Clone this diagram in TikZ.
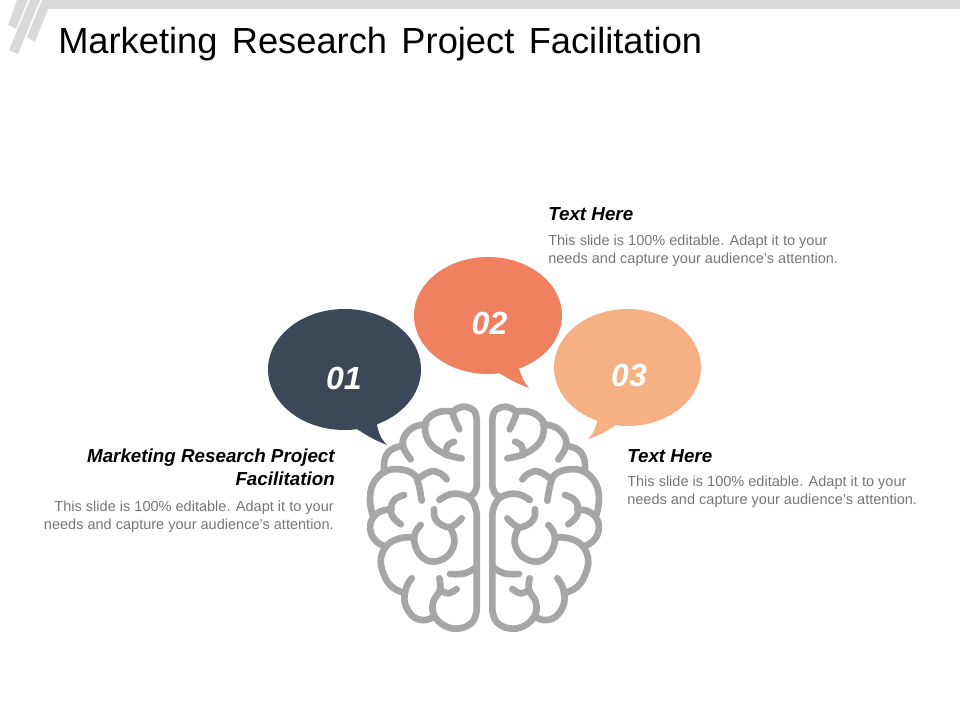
\documentclass[tikz,border=0pt]{standalone}
\usepackage{fontspec}
\setmainfont{Liberation Sans}
\usetikzlibrary{positioning}
\definecolor{bandgray}{HTML}{D9D9D9}
\definecolor{braingray}{HTML}{A6A6A6}
\definecolor{bodygray}{HTML}{767676}
\definecolor{navy}{HTML}{3C4858}
\definecolor{coral}{HTML}{EF8060}
\definecolor{peach}{HTML}{F5B183}
\tikzset{
    Title/.style = {anchor=base west, inner sep=0pt, font=\fontsize{27.2}{32}\selectfont},
    Head/.style = {inner sep=0pt, font=\fontsize{14.1}{17.5}\selectfont\bfseries\itshape},
    Body/.style = {inner sep=0pt, text=bodygray, font=\fontsize{10.9}{13.6}\selectfont},
    Num/.style = {inner sep=0pt, text=white, font=\fontsize{24}{28}\selectfont\bfseries\itshape},
    Fold/.style = {draw=braingray, line width=5pt, line cap=round, line join=round}
}
\tikzset{
    brainhalf/.pic = {
        \draw[Fold] plot[smooth,tension=0.6] coordinates {(328,118) (315,90) (310,65) (340,50) (372,62) (380,90)} -- (380,290)
            plot[smooth,tension=0.6] coordinates {(380,290) (372,310) (355,322)};
        \draw[Fold] plot[smooth,tension=0.7] coordinates {(310,65) (270,65) (235,85) (225,115) (240,160) (285,192) (335,205)};
        \draw[Fold] plot[smooth,tension=0.7] coordinates {(312,155) (292,168) (288,195)};
        \draw[Fold] plot[smooth,tension=0.7] coordinates {(228,103) (190,112) (163,140) (160,172) (182,208)};
        \draw[Fold] plot[smooth,tension=0.7] coordinates {(160,167) (125,178) (105,205) (102,243)};
        \draw[Fold] plot[smooth,tension=0.7] coordinates {(68,375) (60,330) (70,280) (105,245) (150,238) (190,252) (205,280) (215,332)};
        \draw[Fold] plot[smooth,tension=0.7] coordinates {(203,268) (240,245) (270,250) (290,268)};
        \draw[Fold] plot[smooth,tension=0.7] coordinates {(162,315) (135,328) (123,352) (128,380) (152,403)};
        \draw[Fold] plot[smooth,tension=0.7] coordinates {(125,358) (90,365) (65,390) (62,425) (80,455) (108,470)};
        \draw[Fold] plot[smooth,tension=0.7] coordinates {(190,442) (150,445) (112,465) (93,505) (100,550) (125,590) (165,610)};
        \draw[Fold] plot[smooth,tension=0.7] coordinates {(212,405) (195,430) (195,465) (215,500) (250,515) (290,500) (310,470) (312,440) (300,412)};
        \draw[Fold] plot[smooth,tension=0.7] coordinates {(252,358) (255,385) (275,405) (305,410) (335,385)};
        \draw[Fold] plot[smooth,tension=0.7] coordinates {(185,565) (168,595) (165,640) (190,680) (225,690) (252,680)};
        \draw[Fold] plot[smooth,tension=0.7] coordinates {(268,565) (270,600) (250,635) (252,675) (285,708) (330,715) (368,695) (380,660)} -- (380,370)
            plot[smooth,tension=0.7] coordinates {(380,370) (368,335) (340,315) (300,313) (268,330)};
        \draw[Fold] plot[smooth,tension=0.7] coordinates {(320,597) (295,610) (270,600)};
        \draw[Fold] plot[smooth,tension=0.7] coordinates {(300,552) (345,550) (380,530)};
    }
}

\begin{document}
\begin{tikzpicture}[x=0.75pt, y=-0.75pt]
\useasboundingbox (0,0) rectangle (960,720);

\fill[bandgray] (17,0) -- (28,0) -- (16,29) -- (8,25) -- cycle;
\fill[bandgray] (30,0) -- (40,0) -- (18,54) -- (9,50) -- cycle;
\fill[bandgray] (42,0) -- (960,0) -- (960,9) -- (48,9) -- (35,42) -- (27,37) -- cycle;

\node[Title] at (58,54) (title) {Marketing\hspace{0.12em} Research\hspace{0.12em} Project\hspace{0.12em} Facilitation};

% speech bubbles
\fill[navy] (344.5,369.5) ellipse [x radius=76.5, y radius=60.5];
\fill[navy] (357,429) .. controls (367,436) and (377,441) .. (387,445) .. controls (381,439) and (378,432) .. (377,424) -- cycle;
\fill[coral] (488,315.5) ellipse [x radius=74, y radius=58.5];
\fill[coral] (498,372) .. controls (508,379) and (518,384) .. (529,388) .. controls (524,382) and (521,376) .. (519,368) -- cycle;
\fill[peach] (627.5,367.5) ellipse [x radius=73.5, y radius=58.5];
\fill[peach] (616,425) .. controls (607,431) and (598,436) .. (588,439) .. controls (593,434) and (596,428) .. (597,421) -- cycle;

\node[Num] at (344,378) (n1) {01};
\node[Num] at (489.5,323) (n2) {02};
\node[Num] at (629,375) (n3) {03};

\pic at (350,390) [xscale=1/3, yscale=1/3] {brainhalf};
\pic at (619,390) [xscale=-1/3, yscale=1/3] {brainhalf};

\node[Head, anchor=base west] at (548,221) (h2) {Text Here};
\node[Body, anchor=north west, align=left] at (548,235) (b2) {This slide is 100\% editable. Adapt it to your\\needs and capture your audience's attention.};
\node[Head, anchor=base west] at (627,462) (h3) {Text Here};
\node[Body, anchor=north west, align=left] at (627,476) (b3) {This slide is 100\% editable. Adapt it to your\\needs and capture your audience's attention.};
\node[Head, anchor=north east, align=right] at (335,448.5) (h1) {Marketing Research Project\\Facilitation};
\node[Body, anchor=north east, align=right] at (334,501) (b1) {This slide is 100\% editable. Adapt it to your\\needs and capture your audience's attention.};
\end{tikzpicture}
\end{document}
